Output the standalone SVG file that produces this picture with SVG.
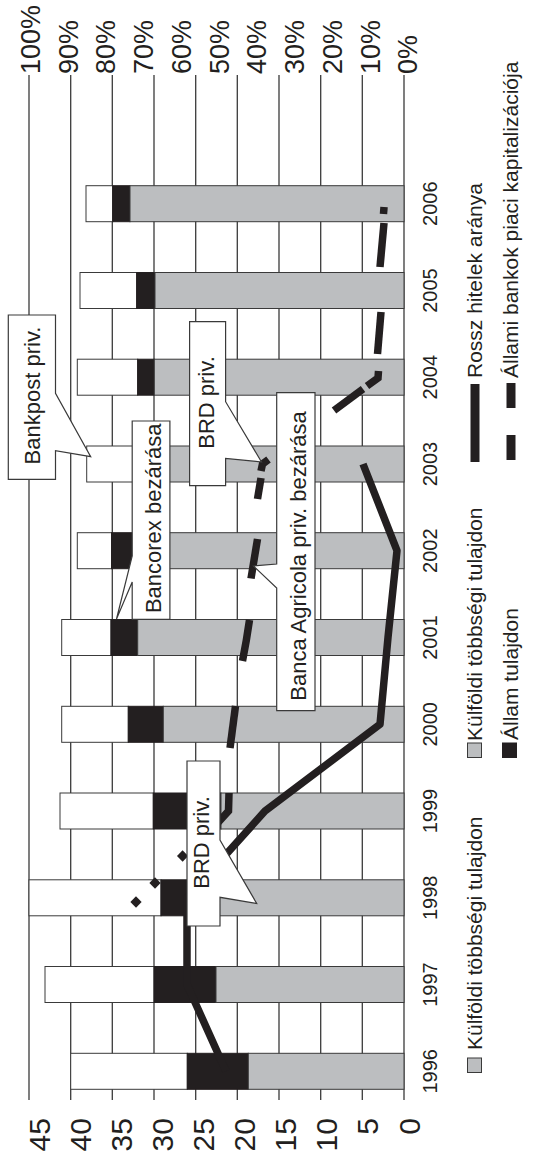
<svg xmlns="http://www.w3.org/2000/svg" width="547" height="1158" viewBox="0 0 547 1158">
<style>
.grid{stroke:#3a3a3a;stroke-width:1.3}
.w{fill:#fff;stroke:#3a3a3a;stroke-width:1}
.k{fill:#231f20;stroke:#231f20;stroke-width:1}
.g{fill:#bcbec0;stroke:#3a3a3a;stroke-width:1}
.solid{fill:none;stroke:#231f20;stroke-width:7.5;stroke-linejoin:round}
.dash{fill:none;stroke:#231f20;stroke-width:7.5;stroke-linejoin:miter}
.dot{fill:none;stroke:#231f20;stroke-width:8}
.callout{fill:#fff;stroke:#3a3a3a;stroke-width:1.2}
text{font-family:"Liberation Sans",Arial,sans-serif;fill:#231f20}
.ax{font-size:30px;text-anchor:end}
.pc{font-size:27px;text-anchor:start}
.yr{font-size:20px;text-anchor:middle}
.co{font-size:22px;text-anchor:middle}
.lg{font-size:21px;text-anchor:start}
</style>

<g id="grid">
<line class="grid" x1="29" y1="75" x2="29" y2="1100"/>
<line class="grid" x1="70.7" y1="75" x2="70.7" y2="1100"/>
<line class="grid" x1="112.3" y1="75" x2="112.3" y2="1100"/>
<line class="grid" x1="154" y1="75" x2="154" y2="1100"/>
<line class="grid" x1="195.7" y1="75" x2="195.7" y2="1100"/>
<line class="grid" x1="237.3" y1="75" x2="237.3" y2="1100"/>
<line class="grid" x1="279" y1="75" x2="279" y2="1100"/>
<line class="grid" x1="320.7" y1="75" x2="320.7" y2="1100"/>
<line class="grid" x1="362.3" y1="75" x2="362.3" y2="1100"/>
<line class="grid" x1="404" y1="75" x2="404" y2="1100"/>
</g>

<g id="bars">
<g id="bar-1996"><rect class="w" x="70.7" y="1053.3" width="116.6" height="36"/><rect class="k" x="187.3" y="1053.3" width="61" height="36"/><rect class="g" x="248.3" y="1053.3" width="155.7" height="36"/></g>
<g id="bar-1997"><rect class="w" x="45" y="966.5" width="109" height="36"/><rect class="k" x="154" y="966.5" width="62" height="36"/><rect class="g" x="216" y="966.5" width="188" height="36"/></g>
<g id="bar-1998"><rect class="w" x="29" y="879.8" width="132" height="36"/><rect class="k" x="161" y="879.8" width="39" height="36"/><rect class="g" x="200" y="879.8" width="204" height="36"/></g>
<g id="bar-1999"><rect class="w" x="60" y="793" width="93.3" height="36"/><rect class="k" x="153.3" y="793" width="67.7" height="36"/><rect class="g" x="221" y="793" width="183" height="36"/></g>
<g id="bar-2000"><rect class="w" x="61.7" y="706.3" width="66.6" height="36"/><rect class="k" x="128.3" y="706.3" width="35" height="36"/><rect class="g" x="163.3" y="706.3" width="240.7" height="36"/></g>
<g id="bar-2001"><rect class="w" x="61.7" y="619.5" width="49.3" height="36"/><rect class="k" x="111" y="619.5" width="26.7" height="36"/><rect class="g" x="137.7" y="619.5" width="266.3" height="36"/></g>
<g id="bar-2002"><rect class="w" x="77.3" y="532.7" width="34.2" height="36"/><rect class="k" x="111.5" y="532.7" width="38.5" height="36"/><rect class="g" x="150" y="532.7" width="254" height="36"/></g>
<g id="bar-2003"><rect class="w" x="86.7" y="446" width="63.3" height="36"/><rect class="k" x="150" y="446" width="12" height="36"/><rect class="g" x="162" y="446" width="242" height="36"/></g>
<g id="bar-2004"><rect class="w" x="77.3" y="359.2" width="60.4" height="36"/><rect class="k" x="137.7" y="359.2" width="16.6" height="36"/><rect class="g" x="154.3" y="359.2" width="249.7" height="36"/></g>
<g id="bar-2005"><rect class="w" x="80" y="272.5" width="56.7" height="36"/><rect class="k" x="136.7" y="272.5" width="18.3" height="36"/><rect class="g" x="155" y="272.5" width="249" height="36"/></g>
<g id="bar-2006"><rect class="w" x="86" y="185.7" width="26.7" height="36"/><rect class="k" x="112.7" y="185.7" width="17.3" height="36"/><rect class="g" x="130" y="185.7" width="274" height="36"/></g>
</g>

<g id="connectors">
<polyline id="rossz-hitelek" class="solid" points="226,1071.3 187,984.5 187,897.8 265,811 380,724.3 388,637.5 397,550.7 363,464"/>
<g id="allami-bankok">
<path class="dot" d="M133.2 904.8 L138.8 899.2"/>
<path class="dot" d="M152.2 885.8 L157.8 880.2"/>
<path class="dot" d="M179.8 858.8 L185.4 853.2"/>
<path class="dash" d="M214 827 L228.5 811 L229 793"/>
<path class="dash" d="M230 748 L235.5 706"/>
<path class="dash" d="M242.5 661 Q246.5 641 249.5 620"/>
<path class="dash" d="M251 578.5 L257.5 539"/>
<path class="dash" d="M257.5 499 L261 478"/>
<path class="dash" d="M261 471 L262.5 464 L268.5 459.5"/>
<path class="dash" d="M334 410.5 L363 389"/>
<path class="dash" d="M367 386 L378 378 L378.5 371"/>
<path class="dash" d="M377.5 354 L381 312"/>
<path class="dash" d="M380 267 L384 223"/>
<path class="dash" d="M383.5 214 L384 207"/>
</g>
</g>

<g id="callout-bankpost">
<polygon class="callout" points="8.3,315 55.5,315 55.5,393.3 90.7,456.7 55.5,450.7 55.5,479.3 8.3,479.3"/>
<text class="co" x="40.3" y="395.5" transform="rotate(-90 40.3 395.5)">Bankpost priv.</text>
</g>
<g id="callout-bancorex">
<polygon class="callout" points="132.2,421 169.9,421 169.9,619.3 132.2,619.3 132.2,582 116.5,619 132.2,556"/>
<text class="co" x="161" y="518.3" transform="rotate(-90 161 518.3)">Bancorex bezárása</text>
</g>
<g id="callout-brd-2003">
<polygon class="callout" points="189.6,321.7 225.6,321.7 225.6,401.7 261.5,462 225.6,458.3 225.6,485.7 189.6,485.7"/>
<text class="co" x="214" y="402.5" transform="rotate(-90 214 402.5)">BRD priv.</text>
</g>
<g id="callout-agricola">
<polygon class="callout" points="276.7,392.7 315,392.7 315,710.7 276.7,710.7 276.7,588 253.5,566 276.7,564"/>
<text class="co" x="306" y="556" transform="rotate(-90 306 556)">Banca Agricola priv. bezárása</text>
</g>
<g id="callout-brd-1998">
<polygon class="callout" points="187,761 220,761 220,840 256.7,903.5 220,897.3 220,926 187,926"/>
<text class="co" x="209" y="842.5" transform="rotate(-90 209 842.5)">BRD priv.</text>
</g>

<g id="axis-left">
<text class="ax" x="419.5" y="1118" transform="rotate(-90 419.5 1118)">0</text>
<text class="ax" x="378.4" y="1118" transform="rotate(-90 378.4 1118)">5</text>
<text class="ax" x="337.3" y="1118" transform="rotate(-90 337.3 1118)">10</text>
<text class="ax" x="296.3" y="1118" transform="rotate(-90 296.3 1118)">15</text>
<text class="ax" x="255.2" y="1118" transform="rotate(-90 255.2 1118)">20</text>
<text class="ax" x="214.1" y="1118" transform="rotate(-90 214.1 1118)">25</text>
<text class="ax" x="173" y="1118" transform="rotate(-90 173 1118)">30</text>
<text class="ax" x="131.9" y="1118" transform="rotate(-90 131.9 1118)">35</text>
<text class="ax" x="90.9" y="1118" transform="rotate(-90 90.9 1118)">40</text>
<text class="ax" x="49.8" y="1118" transform="rotate(-90 49.8 1118)">45</text>
</g>

<g id="axis-right">
<text class="pc" x="417.2" y="74" transform="rotate(-90 417.2 74)">0%</text>
<text class="pc" x="379.5" y="74" transform="rotate(-90 379.5 74)">10%</text>
<text class="pc" x="341.7" y="74" transform="rotate(-90 341.7 74)">20%</text>
<text class="pc" x="304" y="74" transform="rotate(-90 304 74)">30%</text>
<text class="pc" x="266.2" y="74" transform="rotate(-90 266.2 74)">40%</text>
<text class="pc" x="228.5" y="74" transform="rotate(-90 228.5 74)">50%</text>
<text class="pc" x="190.7" y="74" transform="rotate(-90 190.7 74)">60%</text>
<text class="pc" x="153" y="74" transform="rotate(-90 153 74)">70%</text>
<text class="pc" x="115.2" y="74" transform="rotate(-90 115.2 74)">80%</text>
<text class="pc" x="77.5" y="74" transform="rotate(-90 77.5 74)">90%</text>
<text class="pc" x="39.7" y="74" transform="rotate(-90 39.7 74)">100%</text>
</g>

<g id="years">
<text class="yr" x="437" y="1071.3" transform="rotate(-90 437 1071.3)">1996</text>
<text class="yr" x="437" y="984.5" transform="rotate(-90 437 984.5)">1997</text>
<text class="yr" x="437" y="897.8" transform="rotate(-90 437 897.8)">1998</text>
<text class="yr" x="437" y="811" transform="rotate(-90 437 811)">1999</text>
<text class="yr" x="437" y="724.3" transform="rotate(-90 437 724.3)">2000</text>
<text class="yr" x="437" y="637.5" transform="rotate(-90 437 637.5)">2001</text>
<text class="yr" x="437" y="550.7" transform="rotate(-90 437 550.7)">2002</text>
<text class="yr" x="437" y="464" transform="rotate(-90 437 464)">2003</text>
<text class="yr" x="437" y="377.2" transform="rotate(-90 437 377.2)">2004</text>
<text class="yr" x="437" y="290.5" transform="rotate(-90 437 290.5)">2005</text>
<text class="yr" x="437" y="203.7" transform="rotate(-90 437 203.7)">2006</text>
</g>

<g id="legend">
<g id="legend-rossz">
<rect x="470.5" y="384" width="9" height="78" fill="#231f20"/>
<text class="lg" x="482" y="378" transform="rotate(-90 482 378)">Rossz hitelek aránya</text>
</g>
<g id="legend-allami">
<rect x="506.5" y="383" width="9" height="25" fill="#231f20"/>
<rect x="506.5" y="435" width="9" height="25" fill="#231f20"/>
<text class="lg" x="518" y="378" transform="rotate(-90 518 378)">Állami bankok piaci kapitalizációja</text>
</g>
<g id="legend-kulfoldi-1">
<rect class="g" x="467.5" y="743" width="14" height="14.5"/>
<text class="lg" x="482" y="741" transform="rotate(-90 482 741)">Külföldi többségi tulajdon</text>
</g>
<g id="legend-allam">
<rect class="k" x="502.5" y="743" width="14" height="14.5"/>
<text class="lg" x="518" y="740" transform="rotate(-90 518 740)">Állam tulajdon</text>
</g>
<g id="legend-kulfoldi-2">
<rect class="g" x="467.5" y="1058" width="14" height="14.5"/>
<text class="lg" x="482" y="1050" transform="rotate(-90 482 1050)">Külföldi többségi tulajdon</text>
</g>
</g>
</svg>
